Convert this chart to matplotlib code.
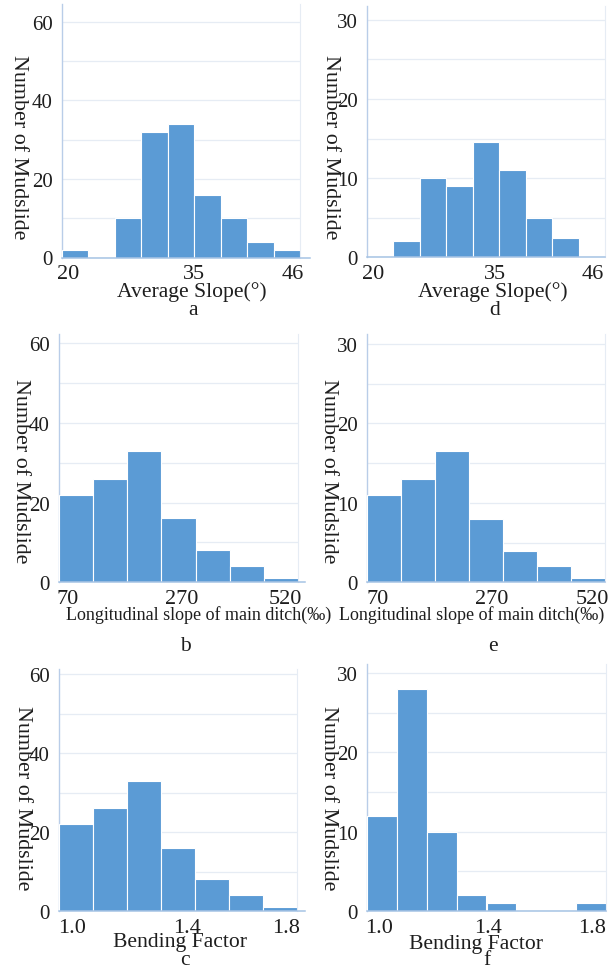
import numpy as np
import matplotlib.pyplot as plt

# ---- data: histogram counts per bin ----
slope_range = (20, 46)
slope_all = [2, 0, 10, 32, 34, 16, 10, 4, 2]
slope_sub = [0, 2, 10, 9, 14.5, 11, 5, 2.5, 0]
slope_ticks = ["20", "35", "46"]

ditch_range = (70, 520)
ditch_all = [22, 26, 33, 16, 8, 4, 1]
ditch_sub = [11, 13, 16.5, 8, 4, 2, 0.5]
ditch_ticks = ["70", "270", "520"]

bend_range = (1.0, 1.8)
bend_all = [22, 26, 33, 16, 8, 4, 1]
bend_sub = [12, 28, 10, 2, 1, 0, 0, 1]
bend_ticks = ["1.0", "1.4", "1.8"]

W, H = 610, 970
fig = plt.figure(figsize=(W / 100, H / 100), dpi=100)

SERIF = ["Liberation Serif", "DejaVu Serif"]
BAR = "#5b9bd5"
GRID = "#e6ecf4"
SPINE = "#b9cde8"
BASE = "#a6c3e4"
TXT = "#1e1e1e"


def panel(left, right, top, y0, ymax_px, ymax, ystep, grid_step,
          xrange_, counts, tick_labels, tick_fracs, xlabel, xlabel_xy,
          xlabel_size, letter, letter_xy, ylabel_xy, base_right=None):
    # axes placed in pixel coordinates
    ax = fig.add_axes([left / W, 1 - y0 / H, (right - left) / W, (y0 - top) / H])
    ytop = ymax * (y0 - top) / (y0 - ymax_px)
    lo, hi = xrange_
    n = len(counts)
    edges = np.linspace(lo, hi, n + 1)
    ax.bar(edges[:-1], counts, width=np.diff(edges), align="edge",
           color=BAR, edgecolor="white", linewidth=0.8, zorder=3)
    ax.set_xlim(lo, hi)
    ax.set_ylim(0, ytop)

    ax.set_yticks(np.arange(0, ymax + 0.1, ystep))
    ax.set_yticks(np.arange(0, ymax + 0.1, grid_step), minor=True)
    ax.grid(True, axis="y", which="both", color=GRID, linewidth=0.9, zorder=0)
    ax.tick_params(axis="y", which="both", length=0, pad=6.5,
                   labelsize=15, labelcolor=TXT)
    for t in ax.get_yticklabels():
        t.set_fontfamily(SERIF)

    ax.set_xticks([lo + f * (hi - lo) for f in tick_fracs])
    ax.set_xticklabels(tick_labels, fontfamily=SERIF, fontsize=16, color=TXT)
    ax.tick_params(axis="x", length=0, pad=5.0)

    ax.spines["top"].set_visible(False)
    ax.spines["right"].set_color(GRID)
    ax.spines["left"].set_color(SPINE)
    ax.spines["left"].set_linewidth(1.0)
    ax.spines["bottom"].set_visible(False)
    # baseline running along zero
    xr = base_right if base_right is not None else right
    fig.add_artist(plt.Line2D([left / W, xr / W], [1 - y0 / H, 1 - y0 / H],
                              color=BASE, linewidth=1.1, zorder=1))

    fig.text(ylabel_xy[0] / W, 1 - ylabel_xy[1] / H, "Number of Mudslide",
             rotation=270, ha="center", va="center", fontsize=15.8,
             fontfamily=SERIF, color=TXT)
    fig.text(xlabel_xy[0] / W, 1 - xlabel_xy[1] / H, xlabel, ha="center",
             va="center", fontsize=xlabel_size, fontfamily=SERIF, color=TXT)
    fig.text(letter_xy[0] / W, 1 - letter_xy[1] / H, letter, ha="center",
             va="center", fontsize=15.5, fontfamily=SERIF, color=TXT)
    return ax


# row 1: average slope
panel(62, 300, 5, 258.5, 22.5, 60, 20, 10, slope_range, slope_all,
      slope_ticks, [0.025, 0.553, 0.97], "Average Slope(°)", (192, 292), 15.6,
      "a", (193, 311), (18, 147), base_right=310)
panel(367, 605, 6.7, 258.3, 20.7, 30, 10, 5, slope_range, slope_sub,
      slope_ticks, [0.025, 0.538, 0.95], "Average Slope(°)", (493, 292), 15.6,
      "d", (495, 311), (330, 147))

# row 2: longitudinal slope of main ditch
panel(59, 298, 335, 583.3, 344, 60, 20, 10, ditch_range, ditch_all,
      ditch_ticks, [0.038, 0.515, 0.946],
      "Longitudinal slope of main ditch(‰)", (199, 615), 13,
      "b", (185, 647), (20, 471), base_right=305)
panel(367, 605, 335, 583.3, 345, 30, 10, 5, ditch_range, ditch_sub,
      ditch_ticks, [0.046, 0.525, 0.945],
      "Longitudinal slope of main ditch(‰)", (472, 615), 13,
      "e", (493, 647), (328, 471))

# row 3: bending factor
panel(59, 297, 670, 912, 675, 60, 20, 10, bend_range, bend_all,
      bend_ticks, [0.055, 0.538, 0.954], "Bending Factor", (180, 943), 15.6,
      "c", (185, 961), (22, 798), base_right=305)
panel(367, 606, 665, 912, 674, 30, 10, 5, bend_range, bend_sub,
      bend_ticks, [0.05, 0.506, 0.94], "Bending Factor", (476, 945), 15.6,
      "f", (487, 961), (328, 798))

fig.savefig("out.png", dpi=100, facecolor="white")
